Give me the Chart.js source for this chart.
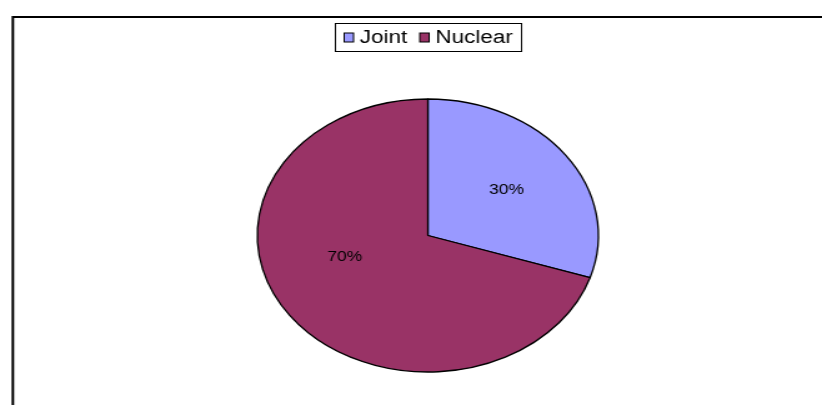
<!DOCTYPE html>
<html>
<head>
<meta charset="utf-8">
<script src="https://cdn.jsdelivr.net/npm/chart.js@4/dist/chart.umd.min.js"></script>
<style>
  html, body { margin: 0; padding: 0; background: #ffffff; overflow: hidden; }
  /* The reference is a horizontally stretched picture: draw narrow, show wide */
  #c { display: block; width: 822px !important; height: 405px !important; }
</style>
</head>
<body>
<canvas id="c" width="658" height="405"></canvas>
<script>
const categories = ['Joint', 'Nuclear'];
const shares = [30, 70];
const sliceColors = ['#9999FF', '#993366'];

const FONT = '"Liberation Sans", Arial, sans-serif';

const framePlugin = {
  id: 'frame',
  afterDraw(chart) {
    const ctx = chart.ctx;
    ctx.save();
    ctx.strokeStyle = '#000';
    ctx.lineWidth = 2;
    ctx.beginPath();
    ctx.moveTo(10.3, chart.height + 2);
    ctx.lineTo(10.3, 17);
    ctx.lineTo(chart.width + 2, 17);
    ctx.stroke();
    ctx.restore();
  }
};

const boxedLegend = {
  id: 'boxedLegend',
  afterDraw(chart, args, opts) {
    const ctx = chart.ctx;
    const labels = chart.data.labels;
    const colors = chart.data.datasets[0].backgroundColor;
    ctx.save();
    ctx.font = opts.fontSize + 'px ' + FONT;
    ctx.textBaseline = 'middle';
    const widths = labels.map(l => ctx.measureText(l).width);
    let total = opts.pad * 2;
    widths.forEach((w, i) => { total += opts.sw + opts.gapText + w + (i ? opts.gapItem : 0); });
    const meta = chart.getDatasetMeta(0);
    const cx = meta.data[0].x;
    const left = Math.round(cx - total / 2) + 0.5;
    const top = opts.top + 0.5;
    ctx.lineWidth = 1;
    ctx.strokeStyle = '#000';
    ctx.fillStyle = '#fff';
    ctx.fillRect(left, top, total, opts.height);
    ctx.strokeRect(left, top, total, opts.height);
    const midY = top + opts.height / 2;
    let x = left + opts.pad;
    labels.forEach((l, i) => {
      if (i) x += opts.gapItem;
      ctx.fillStyle = colors[i];
      ctx.fillRect(x, midY - opts.sh / 2, opts.sw, opts.sh);
      ctx.strokeRect(x, midY - opts.sh / 2, opts.sw, opts.sh);
      x += opts.sw + opts.gapText;
      ctx.fillStyle = '#000';
      ctx.fillText(l, x, midY + 1);
      x += widths[i];
    });
    ctx.restore();
  }
};

const sliceLabels = {
  id: 'sliceLabels',
  afterDatasetsDraw(chart, args, opts) {
    const ctx = chart.ctx;
    const data = chart.data.datasets[0].data;
    const total = data.reduce((a, b) => a + b, 0);
    const meta = chart.getDatasetMeta(0);
    ctx.save();
    ctx.font = opts.fontSize + 'px ' + FONT;
    ctx.fillStyle = '#000';
    ctx.textAlign = 'center';
    ctx.textBaseline = 'middle';
    meta.data.forEach((arc, i) => {
      const p = arc.getProps(['x', 'y', 'startAngle', 'endAngle', 'outerRadius'], true);
      const mid = (p.startAngle + p.endAngle) / 2;
      const r = p.outerRadius * opts.fraction;
      const nudge = opts.nudges[i] || [0, 0];
      const tx = p.x + Math.cos(mid) * r + nudge[0];
      const ty = p.y + Math.sin(mid) * r + nudge[1];
      ctx.fillText(Math.round(data[i] / total * 100) + '%', tx, ty);
    });
    ctx.restore();
  }
};

new Chart(document.getElementById('c'), {
  type: 'pie',
  data: {
    labels: categories,
    datasets: [{
      data: shares,
      backgroundColor: sliceColors,
      borderColor: '#000000',
      borderWidth: 1.3,
      radius: 136.5
    }]
  },
  options: {
    responsive: false,
    animation: false,
    devicePixelRatio: 1,
    layout: { padding: { left: 27, right: 0, top: 66, bottom: 0 } },
    plugins: {
      legend: { display: false },
      tooltip: { enabled: false },
      boxedLegend: { fontSize: 18, top: 23, height: 28, pad: 7, sw: 7.5, sh: 9, gapText: 5, gapItem: 10 },
      sliceLabels: { fontSize: 14, fraction: 0.57, nudges: [[0, 0], [-3.6, -24.2]] }
    }
  },
  plugins: [sliceLabels, boxedLegend, framePlugin]
});
</script>
</body>
</html>
